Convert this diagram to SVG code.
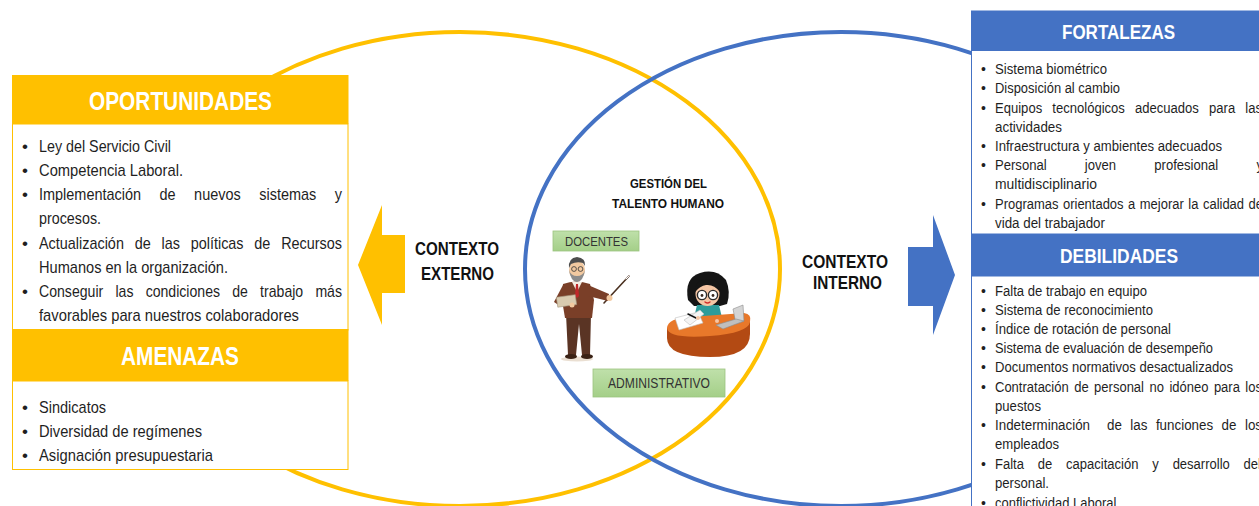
<svg xmlns="http://www.w3.org/2000/svg" width="1259" height="506" viewBox="0 0 1259 506">
  <defs>
    <linearGradient id="green" x1="0" y1="0" x2="0" y2="1">
      <stop offset="0" stop-color="#BFE0AA"/>
      <stop offset="1" stop-color="#A4CF88"/>
    </linearGradient>
    <style>
      .ring { fill: none; stroke-width: 4; }
      .hdrY { fill: #FFC000; }
      .hdrB { fill: #4472C4; }
      .htxt { font-family: "Liberation Sans", Arial, sans-serif; font-weight: bold; fill: #FFFFFF; }
      .lbody { font-family: "Liberation Sans", Arial, sans-serif; font-size: 17px; fill: #1F1F1F; }
      .rbody { font-family: "Liberation Sans", Arial, sans-serif; font-size: 14px; fill: #1F1F1F; }
      .ctx { font-family: "Liberation Sans", Arial, sans-serif; font-weight: bold; font-size: 17.5px; fill: #111111; }
      .gth { font-family: "Liberation Sans", Arial, sans-serif; font-weight: bold; font-size: 12px; fill: #111111; }
      .tag { fill: url(#green); stroke: #9CC47F; stroke-width: 0.8; }
      .tagtxt { font-family: "Liberation Sans", Arial, sans-serif; fill: #333333; }
    </style>
  </defs>

  <rect width="1259" height="506" fill="#FFFFFF"/>

  <!-- external / internal context rings -->
  <g id="rings">
    <ellipse class="ring" cx="460" cy="269" rx="320" ry="237" stroke="#FFC000"/>
    <ellipse class="ring" cx="841" cy="269" rx="316" ry="237" stroke="#4472C4"/>
  </g>

  <!-- context arrows -->
  <g id="connectors">
    <polygon points="358,265 382,205 382,235 405,235 405,293 382,293 382,325" fill="#FFC000"/>
    <polygon points="908,247 933,247 933,215 955,275 933,335 933,306 908,306" fill="#4472C4"/>
  </g>

  <!-- Opportunities / threats panel -->
  <g id="oportunidades">
    <rect x="12.5" y="124" width="335.5" height="206" fill="#FFFFFF" stroke="#FFC000" stroke-width="1"/>
    <rect class="hdrY" x="12" y="75" width="336.5" height="49"/>
    <text class="htxt" x="89" y="110" font-size="25" textLength="183" lengthAdjust="spacingAndGlyphs">OPORTUNIDADES</text>
    <g class="lbody">
      <text x="22" y="152">•</text><text x="39" y="152" textLength="132" lengthAdjust="spacingAndGlyphs">Ley del Servicio Civil</text>
      <text x="22" y="176">•</text><text x="39" y="176" textLength="144" lengthAdjust="spacingAndGlyphs">Competencia Laboral.</text>
      <text x="22" y="200">•</text><text x="39" y="200" word-spacing="17" textLength="303" lengthAdjust="spacingAndGlyphs">Implementación de nuevos sistemas y</text>
      <text x="39" y="224" textLength="62" lengthAdjust="spacingAndGlyphs">procesos.</text>
      <text x="22" y="249">•</text><text x="39" y="249" word-spacing="8" textLength="303" lengthAdjust="spacingAndGlyphs">Actualización de las políticas de Recursos</text>
      <text x="39" y="273" textLength="189" lengthAdjust="spacingAndGlyphs">Humanos en la organización.</text>
      <text x="22" y="297">•</text><text x="39" y="297" word-spacing="10" textLength="303" lengthAdjust="spacingAndGlyphs">Conseguir las condiciones de trabajo más</text>
      <text x="39" y="321" textLength="260" lengthAdjust="spacingAndGlyphs">favorables para nuestros colaboradores</text>
    </g>
  </g>

  <g id="amenazas">
    <rect x="12.5" y="381" width="335.5" height="88.5" fill="#FFFFFF" stroke="#FFC000" stroke-width="1"/>
    <rect class="hdrY" x="12" y="329" width="336.5" height="52"/>
    <text class="htxt" x="121" y="365" font-size="25" textLength="118" lengthAdjust="spacingAndGlyphs">AMENAZAS</text>
    <g class="lbody">
      <text x="22" y="413">•</text><text x="39" y="413" textLength="67" lengthAdjust="spacingAndGlyphs">Sindicatos</text>
      <text x="22" y="437">•</text><text x="39" y="437" textLength="163" lengthAdjust="spacingAndGlyphs">Diversidad de regímenes</text>
      <text x="22" y="461">•</text><text x="39" y="461" textLength="174" lengthAdjust="spacingAndGlyphs">Asignación presupuestaria</text>
    </g>
  </g>

  <!-- Strengths / weaknesses panel -->
  <g id="fortalezas">
    <rect x="971.5" y="11" width="300" height="223" fill="#FFFFFF" stroke="#4472C4" stroke-width="1"/>
    <rect class="hdrB" x="971" y="11" width="290" height="40"/>
    <text class="htxt" x="1062" y="39" font-size="20" textLength="113" lengthAdjust="spacingAndGlyphs">FORTALEZAS</text>
    <g class="rbody">
      <text x="981" y="74">•</text><text x="995" y="74" textLength="112" lengthAdjust="spacingAndGlyphs">Sistema biométrico</text>
      <text x="981" y="93">•</text><text x="995" y="93" textLength="125" lengthAdjust="spacingAndGlyphs">Disposición al cambio</text>
      <text x="981" y="113">•</text><text x="995" y="113" word-spacing="7" textLength="267" lengthAdjust="spacingAndGlyphs">Equipos tecnológicos adecuados para las</text>
      <text x="995" y="132" textLength="67" lengthAdjust="spacingAndGlyphs">actividades</text>
      <text x="981" y="151">•</text><text x="995" y="151" textLength="227" lengthAdjust="spacingAndGlyphs">Infraestructura y ambientes adecuados</text>
      <text x="981" y="170">•</text><text x="995" y="170" word-spacing="37" textLength="268" lengthAdjust="spacingAndGlyphs">Personal joven profesional y</text>
      <text x="995" y="189" textLength="102" lengthAdjust="spacingAndGlyphs">multidisciplinario</text>
      <text x="981" y="209">•</text><text x="995" y="209" word-spacing="1" textLength="268" lengthAdjust="spacingAndGlyphs">Programas orientados a mejorar la calidad de</text>
      <text x="995" y="228" textLength="110" lengthAdjust="spacingAndGlyphs">vida del trabajador</text>
    </g>
  </g>

  <g id="debilidades">
    <rect x="971.5" y="276" width="300" height="240" fill="#FFFFFF" stroke="#4472C4" stroke-width="1"/>
    <rect class="hdrB" x="971" y="234" width="290" height="42"/>
    <text class="htxt" x="1060" y="263" font-size="21" textLength="118" lengthAdjust="spacingAndGlyphs">DEBILIDADES</text>
    <g class="rbody">
      <text x="981" y="296">•</text><text x="995" y="296" textLength="152" lengthAdjust="spacingAndGlyphs">Falta de trabajo en equipo</text>
      <text x="981" y="315">•</text><text x="995" y="315" textLength="158" lengthAdjust="spacingAndGlyphs">Sistema de reconocimiento</text>
      <text x="981" y="334">•</text><text x="995" y="334" textLength="176" lengthAdjust="spacingAndGlyphs">Índice de rotación de personal</text>
      <text x="981" y="353">•</text><text x="995" y="353" textLength="218" lengthAdjust="spacingAndGlyphs">Sistema de evaluación de desempeño</text>
      <text x="981" y="372">•</text><text x="995" y="372" textLength="238" lengthAdjust="spacingAndGlyphs">Documentos normativos desactualizados</text>
      <text x="981" y="392">•</text><text x="995" y="392" word-spacing="2" textLength="267" lengthAdjust="spacingAndGlyphs">Contratación de personal no idóneo para los</text>
      <text x="995" y="411" textLength="46" lengthAdjust="spacingAndGlyphs">puestos</text>
      <text x="981" y="430">•</text><text x="995" y="430" xml:space="preserve" word-spacing="5" textLength="267" lengthAdjust="spacingAndGlyphs">Indeterminación  de las funciones de los</text>
      <text x="995" y="449" textLength="64" lengthAdjust="spacingAndGlyphs">empleados</text>
      <text x="981" y="469">•</text><text x="995" y="469" word-spacing="11" textLength="266" lengthAdjust="spacingAndGlyphs">Falta de capacitación y desarrollo del</text>
      <text x="995" y="488" textLength="54" lengthAdjust="spacingAndGlyphs">personal.</text>
      <text x="981" y="508">•</text><text x="995" y="508" textLength="125" lengthAdjust="spacingAndGlyphs">conflictividad Laboral.</text>
    </g>
  </g>

  <!-- context labels -->
  <g id="contexto-externo">
    <text class="ctx" x="415" y="255" textLength="84" lengthAdjust="spacingAndGlyphs">CONTEXTO</text>
    <text class="ctx" x="421" y="280" textLength="73" lengthAdjust="spacingAndGlyphs">EXTERNO</text>
  </g>
  <g id="contexto-interno">
    <text class="ctx" x="802" y="268" textLength="86" lengthAdjust="spacingAndGlyphs">CONTEXTO</text>
    <text class="ctx" x="813" y="289" textLength="69" lengthAdjust="spacingAndGlyphs">INTERNO</text>
  </g>

  <!-- centre: human talent management -->
  <g id="gestion">
    <text class="gth" x="630" y="188" textLength="77" lengthAdjust="spacingAndGlyphs">GESTIÓN DEL</text>
    <text class="gth" x="612" y="208" textLength="112" lengthAdjust="spacingAndGlyphs">TALENTO HUMANO</text>
  </g>

  <g id="docentes">
    <rect class="tag" x="553" y="231" width="86" height="20"/>
    <text class="tagtxt" x="565" y="246" font-size="13" textLength="63" lengthAdjust="spacingAndGlyphs">DOCENTES</text>
  </g>

  <g id="administrativo">
    <rect class="tag" x="593" y="369" width="132" height="28"/>
    <text class="tagtxt" x="608" y="388" font-size="14" textLength="102" lengthAdjust="spacingAndGlyphs">ADMINISTRATIVO</text>
  </g>

  <!-- teacher with pointer -->
  <g id="teacher">
    <ellipse cx="577" cy="359" rx="16" ry="2.5" fill="#EADFD2"/>
    <!-- pointer -->
    <line x1="604" y1="303" x2="629" y2="276" stroke="#4A3020" stroke-width="1.6" stroke-linecap="round"/>
    <line x1="626" y1="279" x2="629" y2="276" stroke="#FFFFFF" stroke-width="1" stroke-linecap="round"/>
    <!-- trousers -->
    <path d="M566,314 L591,314 L590,355 L582,355 L579,324 L576,355 L568,355 Z" fill="#5A3424"/>
    <!-- shoes -->
    <ellipse cx="571" cy="356.5" rx="6" ry="2.5" fill="#3A2215"/>
    <ellipse cx="587" cy="356.5" rx="6" ry="2.5" fill="#3A2215"/>
    <!-- jacket -->
    <path d="M563,284 Q576,279 590,284 L594,300 L592,318 L565,318 L562,300 Z" fill="#7A3F28"/>
    <!-- shirt and tie -->
    <path d="M572,282 L577,292 L582,282 Z" fill="#F5EDE3"/>
    <path d="M576,284 L578,284 L579,296 L577,298 L575,296 Z" fill="#C0282A"/>
    <!-- right arm reaching to pointer -->
    <path d="M588,285 L609,294 L608,301 L588,296 Z" fill="#7A3F28"/>
    <circle cx="609.5" cy="298" r="3" fill="#F2C9A0"/>
    <!-- left arm holding book -->
    <path d="M563,285 L554,302 L560,306 L567,296 Z" fill="#7A3F28"/>
    <rect x="557" y="296" width="19" height="10" fill="#D9CBB0" stroke="#A89C84" stroke-width="0.6" transform="rotate(-8 566 301)"/>
    <circle cx="572" cy="305" r="2.5" fill="#F2C9A0"/>
    <!-- head -->
    <ellipse cx="577" cy="270" rx="8" ry="9.5" fill="#F2C9A0"/>
    <path d="M569,268 Q568,258 577,257 Q586,258 585,266 L583,263 Q577,261 571,264 Z" fill="#4D4D4D"/>
    <path d="M569,270 Q571,282 577,282 Q583,282 585,270 Q583,276 577,276 Q571,276 569,270 Z" fill="#8C8C8C"/>
    <circle cx="574" cy="269" r="2.4" fill="none" stroke="#333333" stroke-width="0.8"/>
    <circle cx="580.5" cy="269" r="2.4" fill="none" stroke="#333333" stroke-width="0.8"/>
  </g>

  <!-- administrative worker at desk -->
  <g id="secretary">
    <!-- hair back -->
    <path d="M688,300 Q684,278 700,273 Q716,268 726,280 Q731,292 727,304 L720,306 L694,306 Z" fill="#151515"/>
    <!-- body -->
    <path d="M697,305 L719,305 L723,322 L693,322 Z" fill="#2E9C9A"/>
    <!-- face -->
    <ellipse cx="707.5" cy="294" rx="12" ry="12" fill="#F5C6A5"/>
    <path d="M695,292 Q695,279 708,279 Q721,279 720,292 Q714,284 706,285 Q700,286 695,292 Z" fill="#151515"/>
    <circle cx="702" cy="295" r="4.6" fill="#FFFFFF" stroke="#2B2B2B" stroke-width="1.4"/>
    <circle cx="713" cy="295" r="4.6" fill="#FFFFFF" stroke="#2B2B2B" stroke-width="1.4"/>
    <circle cx="702" cy="295.5" r="1.4" fill="#3B2A20"/>
    <circle cx="713" cy="295.5" r="1.4" fill="#3B2A20"/>
    <path d="M705,302 Q707.5,304 710,302" fill="none" stroke="#D0312D" stroke-width="1.4" stroke-linecap="round"/>
    <!-- desk front -->
    <path d="M667,328 L750,322 L750,334 Q750,357 710,357 Q667,357 667,338 Z" fill="#B34A13"/>
    <!-- desk top -->
    <path d="M667,328 Q668,318 690,317 L744,313 Q752,314 750,322 Q748,333 710,336 Q668,339 667,328 Z" fill="#E8782A"/>
    <!-- papers -->
    <path d="M675,318 L698,312 L703,323 L679,330 Z" fill="#FFFFFF" stroke="#BDBDBD" stroke-width="0.6"/>
    <path d="M684,320 L700,310 L704,314 L690,325 Z" fill="#F4F4F4" stroke="#BDBDBD" stroke-width="0.6"/>
    <line x1="688" y1="314" x2="696" y2="318" stroke="#111111" stroke-width="1.5" stroke-linecap="round"/>
    <circle cx="698" cy="318" r="2" fill="#F5C6A5"/>
    <!-- laptop -->
    <path d="M733,309 L743,305 L744,321 L736,324 Z" fill="#D4D4D4" stroke="#8C8C8C" stroke-width="0.6"/>
    <path d="M716,325 L736,319 L744,321 L723,329 Z" fill="#BFBFBF" stroke="#8C8C8C" stroke-width="0.6"/>
    <circle cx="717" cy="321" r="2" fill="#F5C6A5"/>
  </g>
</svg>
